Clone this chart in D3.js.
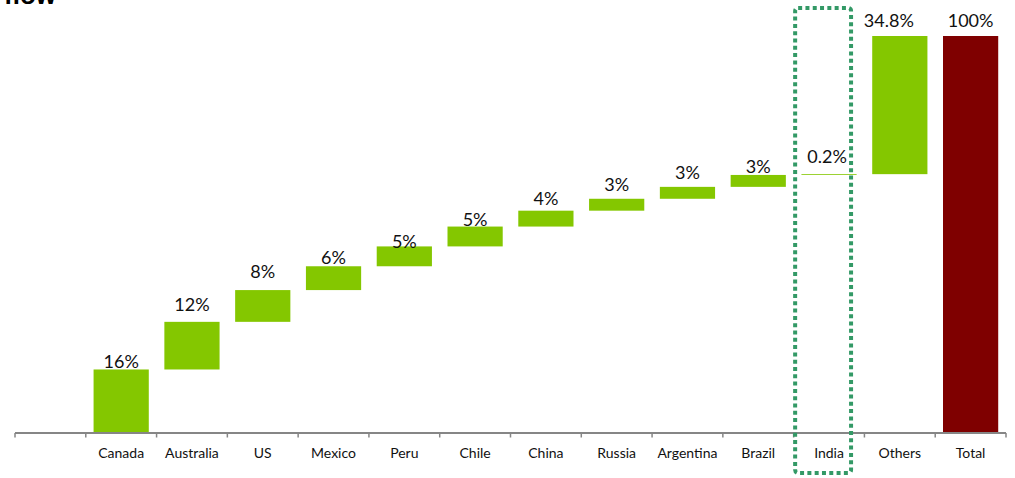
<!DOCTYPE html>
<html>
<head>
<meta charset="utf-8">
<script src="https://cdn.jsdelivr.net/npm/d3@7"></script>
<style>
  html, body { margin: 0; padding: 0; background: #ffffff; }
  svg { display: block; }
</style>
</head>
<body>
<svg id="chart" width="1015" height="478"></svg>
<script>
// Waterfall: each country's share stacks on the running total, ending in a 100% total column.
const categories = ["", "Canada", "Australia", "US", "Mexico", "Peru", "Chile", "China",
                    "Russia", "Argentina", "Brazil", "India", "Others", "Total"];
const shares = [null, 16, 12, 8, 6, 5, 5, 4, 3, 3, 3, 0.2, 34.8, 100];
const valueLabels = ["", "16%", "12%", "8%", "6%", "5%", "5%", "4%", "3%", "3%", "3%", "0.2%", "34.8%", "100%"];
const totalCategory = "Total";
const highlighted = "India";

// Label placement tweaks (pixels above bar top, horizontal shift)
const labelLift = [0, 1, 11, 12, 2, -2, 1, 6, 8, 8, 2, 11, 9, 9];
const labelShift = [0, 0, 0, 0, 0, 0, 0, 0, 0, 0, 0, -2, -11, 0];

const svg = d3.select("#chart");
const GREEN = "#84c700";
const MAROON = "#7f0000";

const x = d3.scaleBand().domain(categories).range([15, 1006]).paddingInner(0.22).paddingOuter(0.11);
const y = d3.scaleLinear().domain([0, 100]).range([433, 36]);

// Build running-total segments
let running = 0;
const segs = categories.map((c, i) => {
  const v = shares[i];
  if (v == null) return null;
  let lo, hi;
  if (c === totalCategory) { lo = 0; hi = v; }
  else { lo = running; hi = running + v; running = hi; }
  return { cat: c, lo, hi, i };
}).filter(d => d);

// Partial heading at the top-left corner
svg.append("text")
  .attr("x", 56).attr("y", 4)
  .attr("text-anchor", "end")
  .attr("font-family", "'Liberation Sans', Arial, sans-serif")
  .attr("font-weight", "bold")
  .attr("font-size", 26)
  .attr("fill", "#000")
  .text("Supply flow");

// Bars
svg.append("g").selectAll("rect").data(segs).join("rect")
  .attr("x", d => x(d.cat))
  .attr("width", x.bandwidth())
  .attr("y", d => y(d.hi))
  .attr("height", d => Math.max(0.8, y(d.lo) - y(d.hi)))
  .attr("fill", d => d.cat === totalCategory ? MAROON : GREEN);

// Value labels
svg.append("g").selectAll("text").data(segs).join("text")
  .attr("x", d => x(d.cat) + x.bandwidth() / 2 + labelShift[d.i])
  .attr("y", d => y(d.hi) - labelLift[d.i])
  .attr("text-anchor", "middle")
  .attr("font-family", "Lato, 'Noto Sans', sans-serif")
  .attr("font-size", 18)
  .attr("fill", "#111")
  .text(d => valueLabels[d.i]);

// Category axis
const step = x.step();
const start = x.range()[0];
const axisY = y(0);
const axis = svg.append("g");
axis.append("line")
  .attr("x1", start).attr("x2", x.range()[1])
  .attr("y1", axisY).attr("y2", axisY)
  .attr("stroke", "#868686").attr("stroke-width", 2);
axis.selectAll("line.tick").data(d3.range(categories.length + 1)).join("line")
  .attr("class", "tick")
  .attr("x1", i => start + i * step).attr("x2", i => start + i * step)
  .attr("y1", axisY).attr("y2", axisY + 4.5)
  .attr("stroke", "#868686").attr("stroke-width", 1.5);
axis.selectAll("text").data(categories).join("text")
  .attr("x", c => x(c) + x.bandwidth() / 2)
  .attr("y", 458)
  .attr("text-anchor", "middle")
  .attr("font-family", "Lato, 'Noto Sans', sans-serif")
  .attr("font-size", 14)
  .attr("fill", "#111")
  .text(c => c);

// Dotted highlight box around one category
const hx = start + categories.indexOf(highlighted) * step;
svg.append("rect")
  .attr("x", hx + 1.5)
  .attr("y", 8)
  .attr("width", step * 0.79)
  .attr("height", 465)
  .attr("rx", 3)
  .attr("fill", "none")
  .attr("stroke", "#339966")
  .attr("stroke-width", 4)
  .attr("stroke-dasharray", "4 3.3");
</script>
</body>
</html>
